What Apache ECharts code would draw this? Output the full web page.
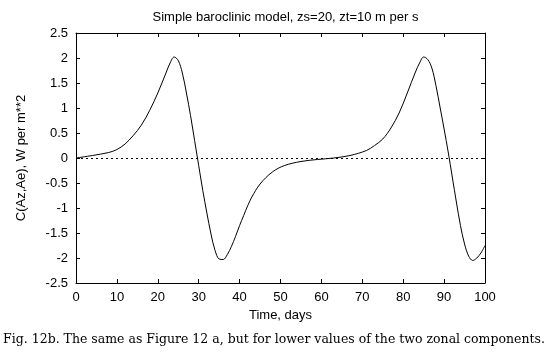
<!DOCTYPE html>
<html>
<head>
<meta charset="utf-8">
<script src="https://cdn.jsdelivr.net/npm/echarts@6/dist/echarts.min.js"></script>
<style>
  html, body { margin: 0; padding: 0; background: #fff; }
  #chart { width: 548px; height: 355px; }
</style>
</head>
<body>
<div id="chart"></div>
<script>
const TITLE = 'Simple baroclinic model, zs=20, zt=10 m per s'
const X_NAME = 'Time, days'
const Y_NAME = 'C(Az,Ae), W per m**2'
const CAPTION = 'Fig. 12b. The same as Figure 12 a, but for lower values of the two zonal components.'

// time in days and conversion C(Az,Ae)
const days = [0, 4, 8, 10, 12, 14, 16, 18, 20, 22, 23, 24, 25, 26, 27, 28, 29, 30, 31, 32, 33, 34, 35, 36, 37, 38, 39, 40, 41, 42, 43, 45, 48, 51, 55, 59, 63, 67, 71, 73, 75, 77, 79, 81, 83, 84, 85, 86, 87, 88, 89, 90, 91, 92, 93, 94, 95, 96, 97, 98, 99, 100]
const conv = [0, 0.05, 0.11, 0.17, 0.28, 0.45, 0.66, 0.95, 1.3, 1.7, 1.9, 2.02, 1.95, 1.7, 1.3, 0.85, 0.35, -0.15, -0.65, -1.1, -1.52, -1.85, -2.02, -2.03, -1.93, -1.77, -1.57, -1.35, -1.15, -0.95, -0.78, -0.52, -0.28, -0.15, -0.07, -0.03, 0, 0.05, 0.15, 0.25, 0.38, 0.6, 0.9, 1.3, 1.72, 1.9, 2.02, 1.97, 1.8, 1.45, 1.02, 0.58, 0.12, -0.38, -0.88, -1.35, -1.72, -1.96, -2.05, -2.0, -1.9, -1.75]

const chart = echarts.init(document.getElementById('chart'))

const tickStyle = { show: true, inside: true, length: 4, lineStyle: { color: '#000', width: 1 } }
const lineStyle = { show: true, onZero: false, lineStyle: { color: '#000', width: 1 } }
const labelFont = { color: '#000', fontSize: 13, fontFamily: 'Liberation Sans, Arial, sans-serif' }

chart.setOption({
  backgroundColor: '#fff',
  animation: false,
  title: {
    text: TITLE,
    left: 280.5,
    textAlign: 'center',
    top: 6,
    textStyle: { fontSize: 13, fontWeight: 'normal', color: '#000', fontFamily: 'Liberation Sans, Arial, sans-serif' }
  },
  grid: { left: 76, right: 63, top: 33, bottom: 72 },
  xAxis: [
    {
      type: 'value', min: 0, max: 100, interval: 10,
      name: X_NAME, nameLocation: 'middle', nameGap: 24,
      nameTextStyle: labelFont,
      axisLine: lineStyle, axisTick: tickStyle,
      axisLabel: Object.assign({ margin: 8 }, labelFont),
      splitLine: { show: false }
    },
    {
      type: 'value', min: 0, max: 100, interval: 10, position: 'top',
      axisLine: lineStyle, axisTick: tickStyle,
      axisLabel: { show: false }, splitLine: { show: false }
    }
  ],
  yAxis: [
    {
      type: 'value', min: -2.5, max: 2.5, interval: 0.5,
      name: Y_NAME, nameLocation: 'middle', nameGap: 48,
      nameTextStyle: labelFont,
      axisLine: lineStyle, axisTick: tickStyle,
      axisLabel: Object.assign({ margin: 8 }, labelFont),
      splitLine: { show: false }
    },
    {
      type: 'value', min: -2.5, max: 2.5, interval: 0.5, position: 'right',
      axisLine: lineStyle, axisTick: tickStyle,
      axisLabel: { show: false }, splitLine: { show: false }
    }
  ],
  series: [
    {
      type: 'line',
      data: days.map((d, i) => [d, conv[i]]),
      smooth: 0.35,
      showSymbol: false,
      lineStyle: { color: '#000', width: 1 },
      markLine: {
        silent: true,
        symbol: 'none',
        label: { show: false },
        lineStyle: { color: '#000', width: 1, type: [2, 3] },
        data: [{ yAxis: 0 }]
      }
    }
  ],
  graphic: [
    {
      type: 'text',
      left: 'center',
      top: 333,
      style: {
        text: CAPTION,
        fill: '#000',
        fontSize: 12.5,
        fontFamily: 'DejaVu Serif, Liberation Serif, serif'
      }
    }
  ]
})
</script>
</body>
</html>
